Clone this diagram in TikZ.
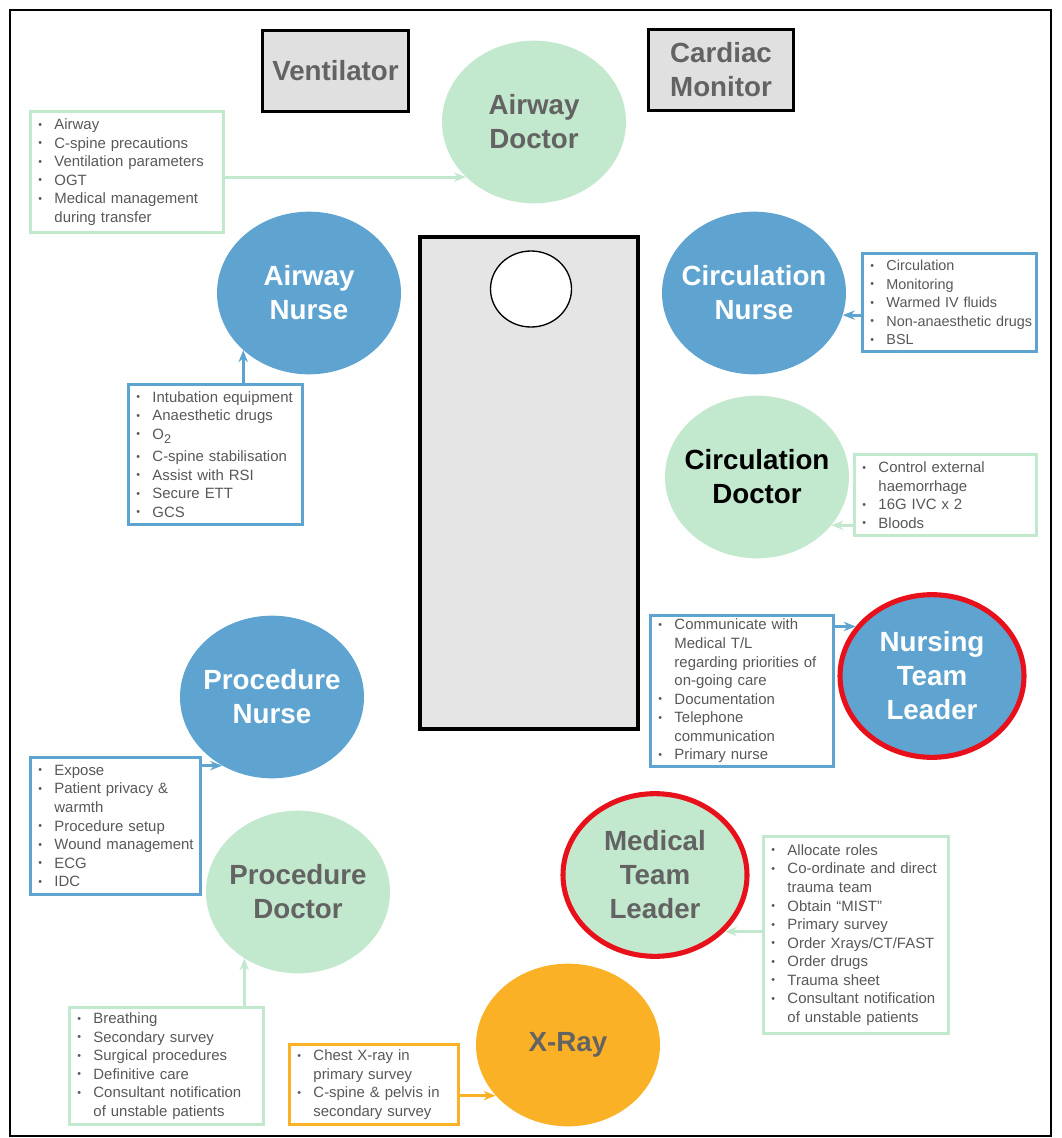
\documentclass[tikz,border=0pt]{standalone}
\usepackage{fontspec}
\setmainfont{Liberation Sans}
\usetikzlibrary{shapes.geometric,arrows.meta}

\definecolor{docgreen}{HTML}{C2E8CE}
\definecolor{nurseblue}{HTML}{5FA4D1}
\definecolor{xorange}{HTML}{FBB126}
\definecolor{leadred}{HTML}{E8101A}
\definecolor{labelgray}{HTML}{636363}
\definecolor{notegray}{HTML}{585858}
\definecolor{bedgray}{HTML}{E5E5E5}
\definecolor{kitgray}{HTML}{E0E0E0}

\newcommand{\bitem}[1]{\makebox[12pt][l]{\raisebox{1.1pt}{\fontsize{8pt}{8pt}\selectfont\textbullet}}\mbox{#1}}
\newcommand{\citem}[1]{\hspace*{12pt}\mbox{#1}}

\begin{document}
\begin{tikzpicture}[x=0.75pt, y=-0.75pt,
    role/.style={ellipse, inner xsep=-25pt, inner ysep=0pt, minimum width=138pt, minimum height=122pt,
        align=center, font=\fontsize{20.8pt}{25.5pt}\selectfont\bfseries},
    doctor/.style={role, fill=docgreen, text=labelgray},
    nurse/.style={role, fill=nurseblue, text=white},
    leader/.style={draw=leadred, line width=3.8pt},
    note/.style={draw, line width=2.2pt, fill=white, anchor=north west, align=left, inner xsep=6pt,
        inner ysep=0pt, text=notegray, font=\fontsize{11.2pt}{13.9pt}\selectfont},
    kit/.style={draw=black, line width=2.2pt, fill=kitgray, text=labelgray, align=center,
        minimum width=109pt, minimum height=61pt, font=\fontsize{20.8pt}{25.5pt}\selectfont\bfseries},
    feed/.style={line width=2.2pt, -{Stealth[length=9pt, width=7pt]}}
  ]
    \useasboundingbox (0,0) rectangle (1061,1138);
    % Rahmen
    \draw[line width=1.5pt] (10,10) rectangle (1051,1136);
    % Geraete
    \node[kit] (vent) at (335.5,71) {Ventilator};
    \node[kit] (cmon) at (721,70) {Cardiac\\Monitor};
    % Trage
    \draw[line width=2.3pt, fill=bedgray] (420,237) rectangle (638,729);
    \draw[line width=1pt, fill=white] (531,289) ellipse [x radius=40.5, y radius=38];
    % Rollen
    \node[doctor] (adoc) at (534,122) {Airway\\Doctor};
    \node[nurse] (anurse) at (309,293) {Airway\\Nurse};
    \node[nurse] (cnurse) at (754,293) {Circulation\\Nurse};
    \node[doctor, text=black] (cdoc) at (757,477) {Circulation\\Doctor};
    \node[nurse, leader] (ntl) at (932,676) {Nursing\\Team\\Leader};
    \node[nurse] (pnurse) at (272,697) {Procedure\\Nurse};
    \node[doctor, leader] (mtl) at (655,875) {Medical\\Team\\Leader};
    \node[doctor] (pdoc) at (298,892) {Procedure\\Doctor};
    \node[role, fill=xorange, text=labelgray] (xray) at (568,1045) {X-Ray};
    % Aufgaben
    \node[note, draw=docgreen, text width=132.75pt, minimum height=90.75pt] (adocbox) at (29,110)
        {\bitem{Airway}\\ \bitem{C-spine precautions}\\ \bitem{Ventilation parameters}\\
         \bitem{OGT}\\ \bitem{Medical management}\\ \citem{during transfer}};
    \node[note, draw=nurseblue, text width=118.5pt, minimum height=105pt] (anursebox) at (127,383)
        {\bitem{Intubation equipment}\\ \bitem{Anaesthetic drugs}\\
         \bitem{O\raisebox{-3pt}{\fontsize{9.5pt}{9.5pt}\selectfont 2}}\\[3pt]
         \bitem{C-spine stabilisation}\\ \bitem{Assist with RSI}\\ \bitem{Secure ETT}\\ \bitem{GCS}};
    \node[note, draw=nurseblue, text width=118.5pt, minimum height=73.5pt,
        font=\fontsize{10.8pt}{13.9pt}\selectfont] (cnursebox) at (861,252)
        {\bitem{Circulation}\\ \bitem{Monitoring}\\ \bitem{Warmed IV fluids}\\
         \bitem{Non-anaesthetic drugs}\\ \bitem{BSL}};
    \node[note, draw=docgreen, text width=124.5pt, minimum height=60.75pt] (cdocbox) at (853,453)
        {\bitem{Control external}\\ \citem{haemorrhage}\\ \bitem{16G IVC x 2}\\ \bitem{Bloods}};
    \node[note, draw=nurseblue, text width=125.25pt, minimum height=113.25pt] (ntlbox) at (649,614)
        {\bitem{Communicate with}\\ \citem{Medical T/L}\\ \citem{regarding priorities of}\\
         \citem{on-going care}\\ \bitem{Documentation}\\ \bitem{Telephone}\\
         \citem{communication}\\ \bitem{Primary nurse}};
    \node[note, draw=nurseblue, text width=115.5pt, minimum height=102.75pt] (pnursebox) at (29,756)
        {\bitem{Expose}\\ \bitem{Patient privacy \&}\\ \citem{warmth}\\ \bitem{Procedure setup}\\
         \bitem{Wound management}\\ \bitem{ECG}\\ \bitem{IDC}};
    \node[note, draw=docgreen, text width=126.75pt, minimum height=147.75pt] (mtlbox) at (762,835)
        {\bitem{Allocate roles}\\ \bitem{Co-ordinate and direct}\\ \citem{trauma team}\\
         \bitem{Obtain “MIST”}\\ \bitem{Primary survey}\\ \bitem{Order Xrays/CT/FAST}\\
         \bitem{Order drugs}\\ \bitem{Trauma sheet}\\ \bitem{Consultant notification}\\
         \citem{of unstable patients}};
    \node[note, draw=docgreen, text width=133.5pt, minimum height=87.75pt] (pdocbox) at (68,1006)
        {\bitem{Breathing}\\ \bitem{Secondary survey}\\ \bitem{Surgical procedures}\\
         \bitem{Definitive care}\\ \bitem{Consultant notification}\\ \citem{of unstable patients}};
    \node[note, draw=xorange, text width=114.75pt, minimum height=60pt] (xraybox) at (288,1043)
        {\bitem{Chest X-ray in}\\ \citem{primary survey}\\ \bitem{C-spine \& pelvis in}\\
         \citem{secondary survey}};
    % Pfeile
    \draw[feed, docgreen] (adocbox.east |- adoc.219) -- (adoc.219);
    \draw[feed, nurseblue] (anurse.221 |- anursebox.north) -- (anurse.221);
    \draw[feed, nurseblue] (cnursebox.west |- cnurse.-14) -- (cnurse.-14);
    \draw[feed, docgreen] (cdocbox.west |- cdoc.-33) -- (cdoc.-33);
    \draw[feed, nurseblue] (ntlbox.east |- ntl.147) -- (ntl.147);
    \draw[feed, nurseblue] (pnursebox.east |- pnurse.234) -- (pnurse.234);
    \draw[feed, docgreen] (mtlbox.west |- mtl.-39) -- (mtl.-39);
    \draw[feed, docgreen] (pdoc.231 |- pdocbox.north) -- (pdoc.231);
    \draw[feed, xorange] (xraybox.east |- xray.215) -- (xray.215);
\end{tikzpicture}
\end{document}
